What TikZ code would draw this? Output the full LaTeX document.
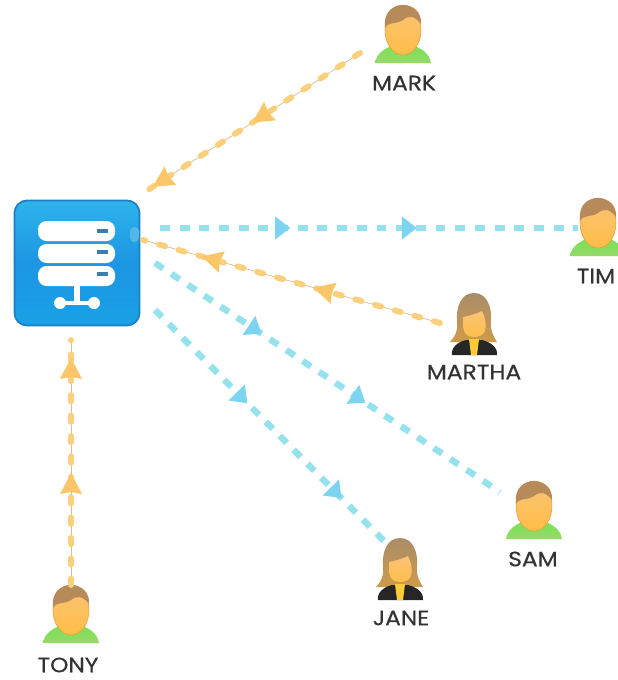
\documentclass[tikz,border=0pt]{standalone}
\usepackage{fontspec}
\setmainfont{Poppins}[FakeBold=.5,FakeStretch=1.12]
\usetikzlibrary{decorations.markings}

\definecolor{flowblue}{RGB}{150,226,236}
\definecolor{tipblue}{RGB}{125,212,240}
\definecolor{floworange}{RGB}{250,208,125}
\definecolor{tiporange}{RGB}{250,198,105}
\definecolor{flowtan}{RGB}{215,190,145}
\definecolor{serverblue}{RGB}{28,150,226}
\definecolor{serverrim}{RGB}{30,125,195}
\definecolor{facetop}{RGB}{250,195,120}
\definecolor{facelow}{RGB}{255,190,70}
\definecolor{hairtop}{RGB}{170,140,105}
\definecolor{hairlow}{RGB}{205,155,75}
\definecolor{bodygreen}{RGB}{150,218,105}

\newcommand{\bluetip}{\fill[tipblue] (9,0) -- (-6,11.5) -- (-6,-11.5) -- cycle;}
\newcommand{\orangetip}{\fill[tiporange] (12,0) -- (-9,11) -- (-7,0) -- (-9,-11) -- cycle;}

\tikzset{
    blueflow/.style 2 args={draw=flowblue, line width=4.6pt, dash pattern=on 7pt off 7pt,
        postaction={decorate, decoration={markings,
            mark=at position #1 with {\bluetip},
            mark=at position #2 with {\bluetip}}}},
    orangeflow/.style 2 args={draw=flowtan, line width=.5pt,
        postaction={draw=floworange, line width=4.2pt, line cap=round, dash pattern=on 4.5pt off 10pt},
        postaction={decorate, decoration={markings,
            mark=at position #1 with {\orangetip},
            mark=at position #2 with {\orangetip}}}},
    username/.style={font=\fontsize{14.8}{16}\selectfont, text=black!80, inner sep=0pt},
    serverbar/.style={fill=white, rounded corners=6},
    man/.pic={
        % Torso
        \shade[top color=bodygreen!80!green, bottom color=bodygreen]
            (-28,33) .. controls (-26,22) and (-18,19) .. (-10,15) -- (10,15)
            .. controls (18,19) and (26,22) .. (28,33) -- cycle;
        % Cara
        \shade[top color=facetop, bottom color=facelow, draw=orange!70!brown!80, line width=.4pt] (0,0) ellipse (18 and 25);
        % Pelo
        \fill[hairtop!85!orange] (-18,-2) .. controls (-20,-18) and (-10,-25) .. (0,-25)
            .. controls (11,-25) and (19,-17) .. (18,-6)
            .. controls (12,-14) and (6,-15) .. (0,-10)
            .. controls (-8,-5) and (-14,-9) .. cycle;
    },
    woman/.pic={
        % Melena
        \shade[top color=hairtop, bottom color=hairlow]
            (0,-32) .. controls (14,-32) and (18,-16) .. (17,-4)
            .. controls (16,6) and (20,12) .. (23,17) -- (-24,17)
            .. controls (-19,12) and (-16,6) .. (-17,-4)
            .. controls (-18,-16) and (-14,-32) .. cycle;
        % Chaqueta
        \fill[black!85] (-22,30) .. controls (-23,22) and (-16,17) .. (-8,15) -- (8,15)
            .. controls (16,17) and (24,22) .. (23,30) -- cycle;
        \fill[facelow!80!yellow] (-5,14) -- (5,14) -- (3,30) -- (-3,30) -- cycle;
        % Cara
        \shade[top color=facetop, bottom color=facelow]
            (-11,-8) .. controls (-4,-9) and (4,-12) .. (8,-14)
            .. controls (11,-8) and (13,0) .. (11,6)
            .. controls (8,14) and (-8,14) .. (-10,6) .. controls (-11,2) and (-11,-3) .. cycle;
    },
}

\begin{document}
\begin{tikzpicture}[x=.025cm, y=-.025cm]
        \useasboundingbox (0,0) rectangle (618,680);
        \clip (0,0) rectangle (618,680);

        % Servidor
        \node[minimum size=89pt, inner sep=0pt, rounded corners=9pt, draw=serverrim, line width=1.2pt,
            top color=serverblue!80!cyan!90, bottom color=serverblue!90!cyan, middle color=serverblue] (server) at (77,263) {};
        \fill[flowblue!45!serverblue, rounded corners=3] (130,227) rectangle (139,242);
        \fill[serverbar] (38,221) rectangle (115,241);
        \fill[serverbar] (38,244) rectangle (115,263);
        \fill[serverbar] (38,266) rectangle (115,286);
        \foreach \barY in {231,252,274}
            \fill[serverrim!70!gray] (97,\barY-2) rectangle (108,\barY+2);
        \fill[white] (74,284) rectangle (80,304);
        \draw[white, line width=3.4pt] (60,303) -- (94,303);
        \fill[white] (60,303) circle (6);
        \fill[white] (94,303) circle (6);

        % Usuarios
        \pic (mark icon) at (403,30) {man};
        \pic (tim icon) at (598,223) {man};
        \pic (martha icon) at (474,325) {woman};
        \pic (sam icon) at (534,506) {man};
        \pic (jane icon) at (400,570) {woman};
        \pic (tony icon) at (71,610) {man};

        % Nombres
        \node[username] (mark) at (404,83) {MARK};
        \node[username] (tim) at (596,276) {TIM};
        \node[username] (martha) at (474,372) {MARTHA};
        \node[username] (sam) at (533,559) {SAM};
        \node[username] (jane) at (401,618) {JANE};
        \node[username] (tony) at (68,665) {TONY};

        % Extremos de las flechas
        \coordinate (mark out) at (360,53);
        \coordinate (mark in) at (148,190);
        \coordinate (tim out) at (160,228);
        \coordinate (tim in) at (578,228);
        \coordinate (martha out) at (440,323);
        \coordinate (martha in) at (143,240);
        \coordinate (sam out) at (155,263);
        \coordinate (sam in) at (500,492);
        \coordinate (jane out) at (155,310);
        \coordinate (jane in) at (388,545);
        \coordinate (tony out) at (71,585);
        \coordinate (tony in) at (71,340);

        % Flechas
        \draw[orangeflow={.46}{.93}] (mark out) -- (mark in);
        \draw[orangeflow={.387}{.764}] (martha out) -- (martha in);
        \draw[orangeflow={.408}{.878}] (tony out) -- (tony in);
        \draw[blueflow={.29}{.593}] (tim out) -- (tim in);
        \draw[blueflow={.287}{.588}] (sam out) -- (sam in);
        \draw[blueflow={.369}{.773}] (jane out) -- (jane in);
\end{tikzpicture}
\end{document}
